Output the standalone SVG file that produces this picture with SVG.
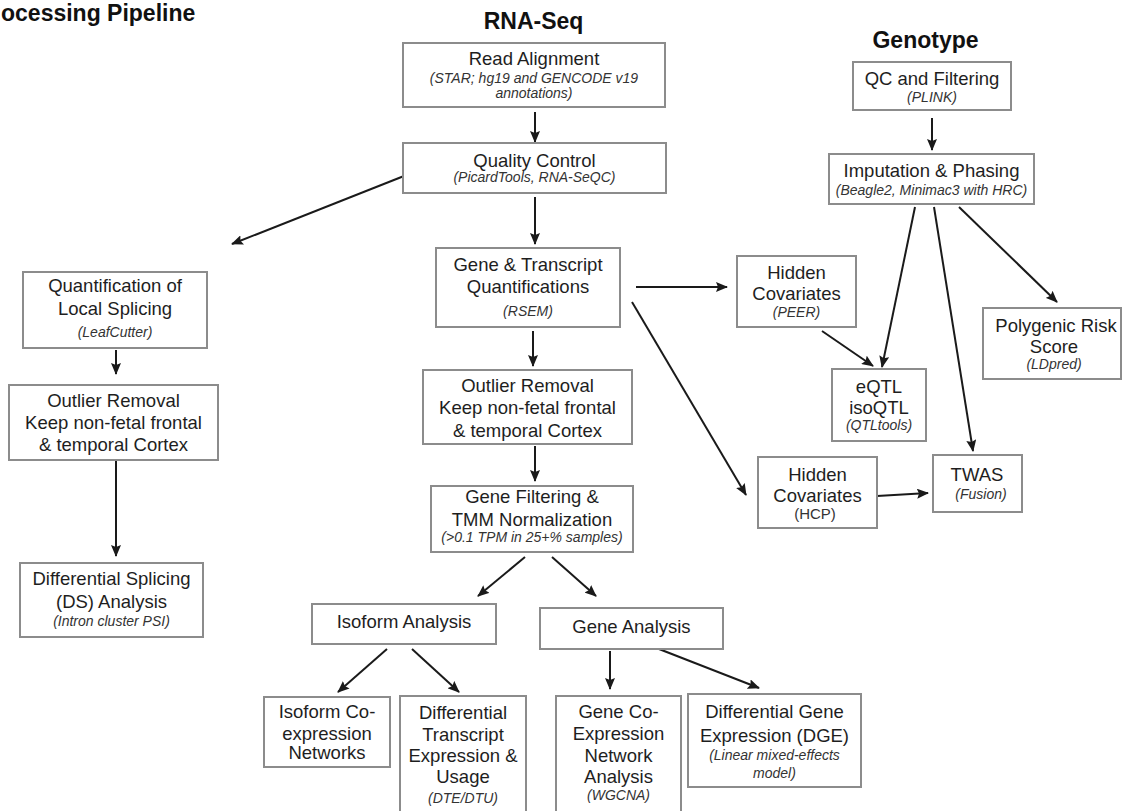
<svg xmlns="http://www.w3.org/2000/svg" width="1123" height="811" viewBox="0 0 1123 811">
<defs>
<marker id="ah" markerWidth="12" markerHeight="10" refX="11" refY="5" orient="auto" markerUnits="userSpaceOnUse">
<path d="M0,0 L12,5 L0,10 L2,5 z" fill="#1a1a1a"/>
</marker>
<style>
.box{fill:#fff;stroke:#8c8c8c;stroke-width:2}
.t{font-family:"Liberation Sans",Arial,Helvetica,sans-serif;font-size:18.5px;fill:#1e1e1e;text-anchor:middle}
.i{font-family:"Liberation Sans",Arial,Helvetica,sans-serif;font-size:14px;font-style:italic;fill:#333;text-anchor:middle}
.p{font-family:"Liberation Sans",Arial,Helvetica,sans-serif;font-size:15px;fill:#333;text-anchor:middle}
.h{font-family:"Liberation Sans",Arial,Helvetica,sans-serif;font-size:23px;font-weight:bold;fill:#111}
.c{stroke:#1a1a1a;stroke-width:2;fill:none;marker-end:url(#ah)}
</style>
</defs>
<rect width="1123" height="811" fill="#fff"/>
<g id="titles">
<text class="h" x="1" y="21">ocessing Pipeline</text>
<text class="h" x="533.5" y="29" text-anchor="middle">RNA-Seq</text>
<text class="h" x="925.5" y="48" text-anchor="middle">Genotype</text>
</g>
<g id="connectors">
<line class="c" x1="535" y1="112" x2="535" y2="142"/>
<line class="c" x1="535" y1="197" x2="535" y2="244"/>
<line class="c" x1="404" y1="176" x2="232" y2="244"/>
<line class="c" x1="116" y1="350" x2="116" y2="374"/>
<line class="c" x1="116" y1="461" x2="116" y2="556"/>
<line class="c" x1="533" y1="331" x2="533" y2="366"/>
<line class="c" x1="535" y1="446" x2="535" y2="481"/>
<line class="c" x1="636" y1="287" x2="727" y2="287"/>
<line class="c" x1="632" y1="302" x2="746" y2="495"/>
<line class="c" x1="932" y1="118" x2="932" y2="150"/>
<line class="c" x1="822" y1="331" x2="873" y2="366"/>
<line class="c" x1="915" y1="207" x2="882" y2="367"/>
<line class="c" x1="934" y1="207" x2="973" y2="451"/>
<line class="c" x1="959" y1="207" x2="1057" y2="302"/>
<line class="c" x1="877" y1="496" x2="928" y2="493"/>
<line class="c" x1="525" y1="557" x2="478" y2="596"/>
<line class="c" x1="552" y1="557" x2="596" y2="596"/>
<line class="c" x1="387" y1="649" x2="338" y2="692"/>
<line class="c" x1="412" y1="649" x2="459" y2="692"/>
<line class="c" x1="610" y1="651" x2="610" y2="689"/>
<line class="c" x1="659" y1="649" x2="759" y2="688"/>
</g>
<g id="read-alignment">
<rect class="box" x="403" y="43" width="262" height="64"/>
<text class="t" x="534" y="65">Read Alignment</text>
<text class="i" x="534" y="83">(STAR; hg19 and GENCODE v19</text>
<text class="i" x="534" y="98">annotations)</text>
</g>
<g id="quality-control">
<rect class="box" x="403" y="143" width="263" height="50"/>
<text class="t" x="534.5" y="167">Quality Control</text>
<text class="i" x="534.5" y="182">(PicardTools, RNA-SeQC)</text>
</g>
<g id="quant-splicing">
<rect class="box" x="23" y="272" width="184" height="76"/>
<text class="t" x="115" y="292">Quantification of</text>
<text class="t" x="115" y="315">Local Splicing</text>
<text class="i" x="115" y="337">(LeafCutter)</text>
</g>
<g id="outlier-left">
<rect class="box" x="9" y="385" width="209" height="75"/>
<text class="t" x="113.5" y="407">Outlier Removal</text>
<text class="t" x="113.5" y="429">Keep non-fetal frontal</text>
<text class="t" x="113.5" y="451">&amp; temporal Cortex</text>
</g>
<g id="diff-splicing">
<rect class="box" x="20" y="563" width="183" height="74"/>
<text class="t" x="111.5" y="585">Differential Splicing</text>
<text class="t" x="111.5" y="608">(DS) Analysis</text>
<text class="i" x="111.5" y="626">(Intron cluster PSI)</text>
</g>
<g id="gene-transcript">
<rect class="box" x="436" y="248" width="184" height="79"/>
<text class="t" x="528" y="271">Gene &amp; Transcript</text>
<text class="t" x="528" y="293">Quantifications</text>
<text class="i" x="528" y="316">(RSEM)</text>
</g>
<g id="outlier-center">
<rect class="box" x="423" y="370" width="209" height="74"/>
<text class="t" x="527.5" y="392">Outlier Removal</text>
<text class="t" x="527.5" y="414">Keep non-fetal frontal</text>
<text class="t" x="527.5" y="437">&amp; temporal Cortex</text>
</g>
<g id="gene-filtering">
<rect class="box" x="431" y="486" width="202" height="66"/>
<text class="t" x="532" y="503">Gene Filtering &amp;</text>
<text class="t" x="532" y="526">TMM Normalization</text>
<text class="i" x="532" y="542" font-size="13">(&gt;0.1 TPM in 25+% samples)</text>
</g>
<g id="qc-filtering">
<rect class="box" x="853" y="62" width="158" height="48"/>
<text class="t" x="932" y="85">QC and Filtering</text>
<text class="i" x="932" y="102">(PLINK)</text>
</g>
<g id="imputation">
<rect class="box" x="829" y="154" width="205" height="50"/>
<text class="t" x="931.5" y="177">Imputation &amp; Phasing</text>
<text class="i" x="931.5" y="195">(Beagle2, Minimac3 with HRC)</text>
</g>
<g id="hidden-peer">
<rect class="box" x="737" y="256" width="119" height="71"/>
<text class="t" x="796.5" y="279">Hidden</text>
<text class="t" x="796.5" y="300">Covariates</text>
<text class="i" x="796.5" y="317">(PEER)</text>
</g>
<g id="eqtl">
<rect class="box" x="832" y="369" width="94" height="72"/>
<text class="t" x="879" y="393">eQTL</text>
<text class="t" x="879" y="414">isoQTL</text>
<text class="i" x="879" y="430">(QTLtools)</text>
</g>
<g id="polygenic">
<rect class="box" x="983" y="308" width="138" height="71"/>
<text class="t" x="1056" y="332">Polygenic Risk</text>
<text class="t" x="1054" y="353">Score</text>
<text class="i" x="1054" y="369">(LDpred)</text>
</g>
<g id="hidden-hcp">
<rect class="box" x="758" y="457" width="119" height="71"/>
<text class="t" x="817.5" y="481">Hidden</text>
<text class="t" x="817.5" y="502">Covariates</text>
<text class="p" x="815" y="519">(HCP)</text>
</g>
<g id="twas">
<rect class="box" x="933" y="455" width="89" height="57"/>
<text class="t" x="977" y="481">TWAS</text>
<text class="i" x="981" y="499">(Fusion)</text>
</g>
<g id="isoform-analysis">
<rect class="box" x="312" y="604" width="184" height="40"/>
<text class="t" x="404" y="628">Isoform Analysis</text>
</g>
<g id="gene-analysis">
<rect class="box" x="540" y="608" width="183" height="41"/>
<text class="t" x="631.5" y="633">Gene Analysis</text>
</g>
<g id="isoform-coexp">
<rect class="box" x="264" y="697" width="126" height="70"/>
<text class="t" x="327" y="718">Isoform Co-</text>
<text class="t" x="327" y="740">expression</text>
<text class="t" x="327" y="759">Networks</text>
</g>
<g id="dte-dtu">
<rect class="box" x="400" y="696" width="126" height="125"/>
<text class="t" x="463" y="719">Differential</text>
<text class="t" x="463" y="741">Transcript</text>
<text class="t" x="463" y="762">Expression &amp;</text>
<text class="t" x="463" y="783">Usage</text>
<text class="i" x="463" y="803">(DTE/DTU)</text>
</g>
<g id="gene-coexp">
<rect class="box" x="556" y="696" width="125" height="125"/>
<text class="t" x="618.5" y="718">Gene Co-</text>
<text class="t" x="618.5" y="740">Expression</text>
<text class="t" x="618.5" y="762">Network</text>
<text class="t" x="618.5" y="783">Analysis</text>
<text class="i" x="618.5" y="800">(WGCNA)</text>
</g>
<g id="dge">
<rect class="box" x="688" y="694" width="173" height="93"/>
<text class="t" x="774.5" y="718">Differential Gene</text>
<text class="t" x="774.5" y="742">Expression (DGE)</text>
<text class="i" x="774.5" y="760">(Linear mixed-effects</text>
<text class="i" x="774.5" y="778">model)</text>
</g>
</svg>
